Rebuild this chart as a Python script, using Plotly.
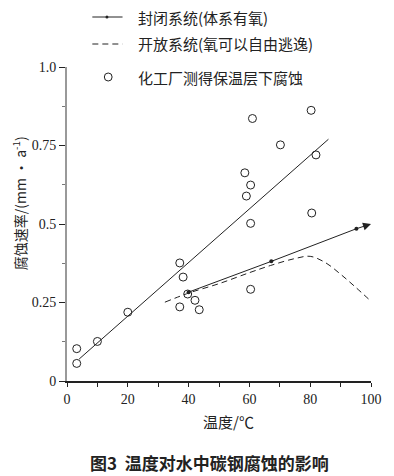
import plotly.graph_objects as go

# Measured field data (化工厂测得保温层下腐蚀)
field_T = [3.2, 3.2, 10, 20, 37.1, 38.2, 37.1, 39.7, 42.1, 43.5, 61, 80.3, 70.2, 81.9, 58.5, 60.4, 59.0, 60.4, 80.5, 60.4]
field_v = [0.103, 0.056, 0.126, 0.219, 0.376, 0.331, 0.236, 0.277, 0.257, 0.227, 0.836, 0.862, 0.752, 0.72, 0.663, 0.624, 0.589, 0.502, 0.535, 0.292]

# Regression line through field data
fit_T = [4, 86]
fit_v = [0.07, 0.77]

# Closed system (体系有氧)
closed_T = [40, 67.2, 95.2]
closed_v = [0.283, 0.381, 0.485]
arrow_tip_T = 100
arrow_tip_v = 0.50

# Open system (氧可以自由逃逸)
open_T = [32.2, 40, 50, 60, 67, 75, 80, 85, 90, 95, 100]
open_v = [0.251, 0.28, 0.31, 0.345, 0.368, 0.39, 0.397, 0.377, 0.34, 0.298, 0.254]

x_ticks = [0, 20, 40, 60, 80, 100]
y_ticks = [0, 0.25, 0.5, 0.75, 1.0]
y_tick_text = ["0", "0.25", "0.5", "0.75", "1.0"]

legend_labels = ["封闭系统(体系有氧)", "开放系统(氧可以自由逃逸)", "化工厂测得保温层下腐蚀"]

SERIF = "Liberation Serif, Noto Sans CJK SC"
CJK = "Noto Sans CJK SC, Liberation Serif"
INK = "#222222"

fig = go.Figure()

fig.add_trace(go.Scatter(x=fit_T, y=fit_v, mode="lines",
                         line=dict(color=INK, width=1), showlegend=False))
fig.add_trace(go.Scatter(x=open_T, y=open_v, mode="lines",
                         line=dict(color=INK, width=1, dash="6px,4px"),
                         line_shape="spline", showlegend=False))
fig.add_trace(go.Scatter(x=closed_T, y=closed_v, mode="lines+markers",
                         line=dict(color=INK, width=1),
                         marker=dict(size=4, color=INK), showlegend=False))
fig.add_trace(go.Scatter(x=field_T, y=field_v, mode="markers",
                         marker=dict(symbol="circle-open", size=8,
                                     color=INK, line=dict(width=1, color=INK)),
                         showlegend=False))

# arrow head for closed system
fig.add_annotation(x=arrow_tip_T, y=arrow_tip_v, ax=closed_T[-1], ay=closed_v[-1],
                   xref="x", yref="y", axref="x", ayref="y", text="",
                   showarrow=True, arrowhead=2, arrowsize=1.6, arrowwidth=1,
                   arrowcolor=INK)

# legend drawn manually (page pixel -> paper fraction of the plot area)
def px2x(px):
    return (px - 67) / 312

def py2y(py):
    return (381 - py) / 314

rows = [17, 44, 77]
fig.add_shape(type="line", xref="paper", yref="paper",
              x0=px2x(93), x1=px2x(124), y0=py2y(rows[0]), y1=py2y(rows[0]),
              line=dict(color=INK, width=1))
fig.add_shape(type="circle", xref="paper", yref="paper",
              x0=px2x(106.5), x1=px2x(109.5), y0=py2y(rows[0] + 1.5), y1=py2y(rows[0] - 1.5),
              fillcolor=INK, line=dict(color=INK, width=0))
fig.add_shape(type="line", xref="paper", yref="paper",
              x0=px2x(93), x1=px2x(124), y0=py2y(rows[1]), y1=py2y(rows[1]),
              line=dict(color=INK, width=1, dash="6px,4px"))
fig.add_shape(type="circle", xref="paper", yref="paper",
              x0=px2x(105.3), x1=px2x(113.3), y0=py2y(rows[2] + 4), y1=py2y(rows[2] - 4),
              line=dict(color=INK, width=1))
for r, lab in zip(rows, legend_labels):
    fig.add_annotation(x=px2x(138), y=py2y(r), xref="paper", yref="paper",
                       text=lab, showarrow=False, xanchor="left", yanchor="middle",
                       font=dict(family=CJK, size=15, color=INK))

# axis titles
fig.add_annotation(x=px2x(18), y=py2y(203), xref="paper", yref="paper",
                   text="腐蚀速率/(mm · a<sup>-1</sup>)", textangle=-90, showarrow=False,
                   xanchor="center", yanchor="middle",
                   font=dict(family=CJK, size=14, color=INK))
fig.add_annotation(x=px2x(233), y=py2y(421), xref="paper", yref="paper",
                   text="温度/℃", showarrow=False, xanchor="center", yanchor="middle",
                   font=dict(family=CJK, size=15, color=INK))
fig.add_annotation(x=px2x(213), y=py2y(462), xref="paper", yref="paper",
                   text="<b>图3  温度对水中碳钢腐蚀的影响</b>", showarrow=False,
                   xanchor="center", yanchor="middle",
                   font=dict(family=CJK, size=17, color=INK))

fig.update_xaxes(range=[0, 100], tickvals=x_ticks, ticks="outside", ticklen=4,
                 tickcolor=INK, showline=True, linecolor=INK, linewidth=2,
                 showgrid=False, zeroline=False,
                 minor=dict(dtick=10, ticks="outside", ticklen=4, tickcolor=INK),
                 tickfont=dict(family=SERIF, size=14, color=INK))
fig.update_yaxes(range=[0, 1.0], tickvals=y_ticks, ticktext=y_tick_text,
                 ticks="outside", ticklen=6, tickcolor=INK,
                 showline=True, linecolor="#999999", linewidth=2,
                 showgrid=False, zeroline=False,
                 minor=dict(dtick=0.125, ticks="outside", ticklen=3, tickcolor="#777777"),
                 tickfont=dict(family=SERIF, size=14, color=INK))

# the page body adds an 8px offset; size the figure so the plot area lands
# at page pixels x 67..379, y 67..381
fig.update_layout(width=386, height=468, autosize=False,
                  margin=dict(l=59, r=15, t=59, b=95),
                  plot_bgcolor="white", paper_bgcolor="white",
                  showlegend=False)

fig.write_html("out.html")
